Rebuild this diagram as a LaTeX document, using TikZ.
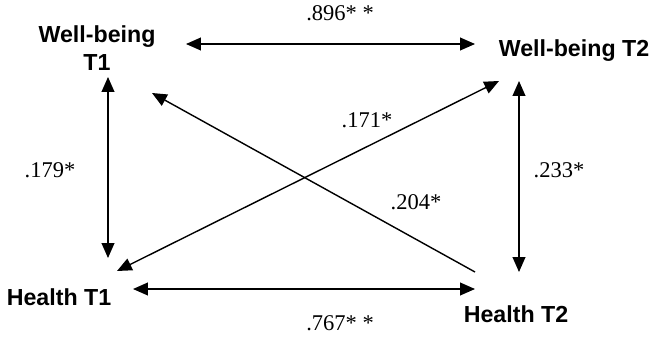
\documentclass[tikz,border=0pt]{standalone}
\usepackage{fontspec}
\setmainfont{Liberation Serif}
\newfontfamily\varfont{Liberation Sans}
\usetikzlibrary{arrows.meta,calc}
\tikzset{
    % Variable name style
    varnode/.style={
        inner sep=0pt,
        align=center,
        font=\varfont\bfseries\fontsize{16.5}{20}\selectfont
    },
    % Path coefficient style
    coefnode/.style={
        inner sep=0pt,
        font=\fontsize{16}{19}\selectfont
    },
    % Single-headed arrow
    myarrow/.style={
        -{Triangle[length=10.5pt,width=9pt]},
        line width=1pt
    },
    % Bidirectional arrow
    biarrow/.style={
        {Triangle[length=10.5pt,width=9pt]}-{Triangle[length=10.5pt,width=9pt]},
        line width=1pt
    }
}
\begin{document}
\begin{tikzpicture}[x=0.025cm, y=-0.025cm]
    \useasboundingbox (0,0) rectangle (652,336);

    % Variables
    \node[varnode] (wb1) at (97,48) {Well-being\\T1};
    \node[varnode] (wb2) at (574,51) {Well-being T2};
    \node[varnode] (h1) at (59,297) {Health T1};
    \node[varnode] (h2) at (516,314) {Health T2};

    % Stability paths
    \draw[biarrow] ($(wb1)+(89,-4)$) -- ($(wb2)+(-99,-7)$);
    \draw[biarrow] ($(h1)+(74,-8)$) -- ($(h2)+(-41,-25)$);

    % Within-time paths
    \draw[biarrow] ($(wb1)+(11,29)$) -- ($(h1)+(49,-39)$);
    \draw[biarrow] ($(wb2)+(-55,30)$) -- ($(h2)+(3,-42)$);

    % Cross-lagged paths
    \draw[biarrow] ($(h1)+(58,-26)$) -- ($(wb2)+(-75,30)$);
    \draw[myarrow] ($(h2)+(-41,-42)$) -- ($(wb1)+(55,45)$);

    % Coefficients
    \node[coefnode] (c896) at (340,13) {.896* *};
    \node[coefnode] (c767) at (340,323) {.767* *};
    \node[coefnode] (c179) at (50,170) {.179*};
    \node[coefnode] (c233) at (559,170) {.233*};
    \node[coefnode] (c171) at (367,120) {.171*};
    \node[coefnode] (c204) at (416,202) {.204*};
\end{tikzpicture}
\end{document}
